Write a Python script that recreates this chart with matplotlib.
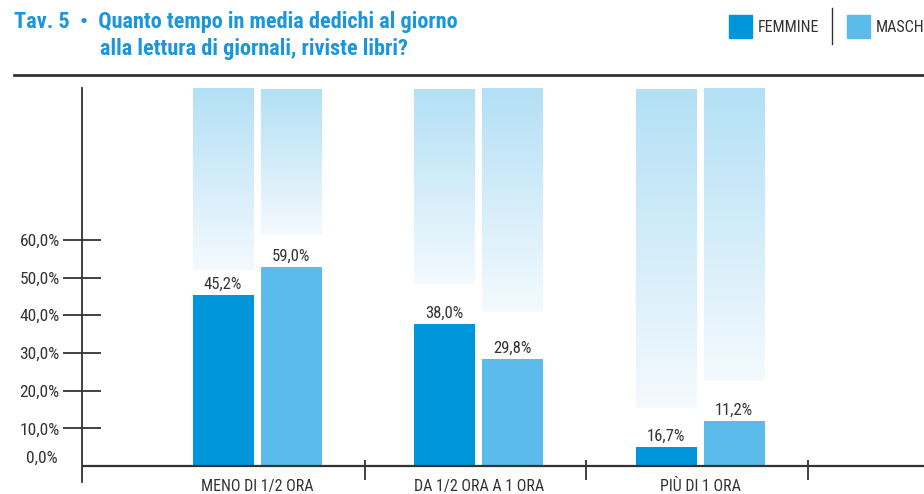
import matplotlib
matplotlib.use('Agg')
import matplotlib.pyplot as plt
import numpy as np
from matplotlib.colors import LinearSegmentedColormap

plt.rcParams['font.family'] = ['Roboto Condensed', 'DejaVu Sans']

# data
categories = ['MENO DI 1/2 ORA', 'DA 1/2 ORA A 1 ORA', 'PIÙ DI 1 ORA']
series = ['FEMMINE', 'MASCHI']
labels_f = ['45,2%', '38,0%', '16,7%']
labels_m = ['59,0%', '29,8%', '11,2%']
# bar heights as drawn in the picture (%)
height_f = [45.4, 37.7, 5.0]
height_m = [52.8, 28.4, 11.9]
# lower end of the pale background columns (%)
pale_f = [51.9, 48.3, 15.4]
pale_m = [61.3, 40.8, 22.5]
yticks = [10, 20, 30, 40, 50, 60]

col_f = '#0096dc'
col_m = '#5bbbeb'
title_col = '#1a96dc'
txt = '#333333'
dark = '#333333'

fig = plt.figure(figsize=(9.24, 4.94), dpi=100)
ax = fig.add_axes([82/924, 12/494, 1 - 82/924, (482-88)/494])

pale = LinearSegmentedColormap.from_list('pale', ['#f4fafe', '#b3e0f5'])
grad = np.linspace(0, 1, 256).reshape(-1, 1)

w = 0.275
off = 0.1535
x = np.arange(len(categories))
for i in x:
    for dx, h, lab, pb, c in [(-off, height_f[i], labels_f[i], pale_f[i], col_f),
                              (off, height_m[i], labels_m[i], pale_m[i], col_m)]:
        xc = i + dx
        ax.imshow(grad, cmap=pale, origin='lower', aspect='auto',
                  extent=[xc - w/2, xc + w/2, pb, 100], zorder=1)
        ax.bar(xc, h, width=w, color=c, zorder=2)
        ax.annotate(lab, (xc, h), xytext=(0, 2.5), textcoords='offset points',
                    ha='center', va='bottom', fontsize=12, color=txt)
ax.set_xlim(-0.79, 3.01)
ax.set_ylim(-4.24, 100.3)

# axes
ax.axhline(0, color=dark, lw=1.6, zorder=3)
ax.vlines([0.485, 1.485, 2.485], -3.7, 1.6, color=dark, lw=1.3, zorder=3)
for s in ['top', 'right', 'bottom']:
    ax.spines[s].set_visible(False)
ax.spines['left'].set_color(dark)
ax.spines['left'].set_linewidth(1.3)
ax.set_xticks([])
ax.set_yticks(yticks)
ax.set_yticklabels([f'{v},0%' for v in yticks], fontsize=12.5, color=txt)
ax.tick_params(axis='y', direction='inout', length=28, width=1.3, color=dark, pad=2)
ax.text(-0.79 - 24/221.5, 2, '0,0%', ha='right', va='center', fontsize=12.5,
        color=txt, clip_on=False)
for i, c in enumerate(categories):
    ax.text(i, -5.4, c, ha='center', va='center', fontsize=11.5, color=txt, clip_on=False)

# title and header
fig.text(14/924, 1 - 22/494, 'Tav. 5  \u2022  Quanto tempo in media dedichi al giorno',
         fontsize=16, fontweight='bold', color=title_col, va='center')
fig.text(100/924, 1 - 49/494, 'alla lettura di giornali, riviste libri?',
         fontsize=16, fontweight='bold', color=title_col, va='center')
fig.add_artist(plt.Line2D([14/924, 1], [1 - 75/494] * 2, color=dark, lw=2))

# legend
fig.add_artist(plt.Rectangle((729/924, 1 - 38/494), 23/924, 23/494, color=col_f))
fig.text(758/924, 1 - 27/494, series[0], fontsize=11.5, color=txt, va='center')
fig.add_artist(plt.Line2D([832/924] * 2, [1 - 44/494, 1 - 8/494], color=dark, lw=1))
fig.add_artist(plt.Rectangle((847/924, 1 - 38/494), 23/924, 23/494, color=col_m))
fig.text(876/924, 1 - 27/494, series[1], fontsize=11.5, color=txt, va='center')

fig.savefig('out.png', dpi=100)
